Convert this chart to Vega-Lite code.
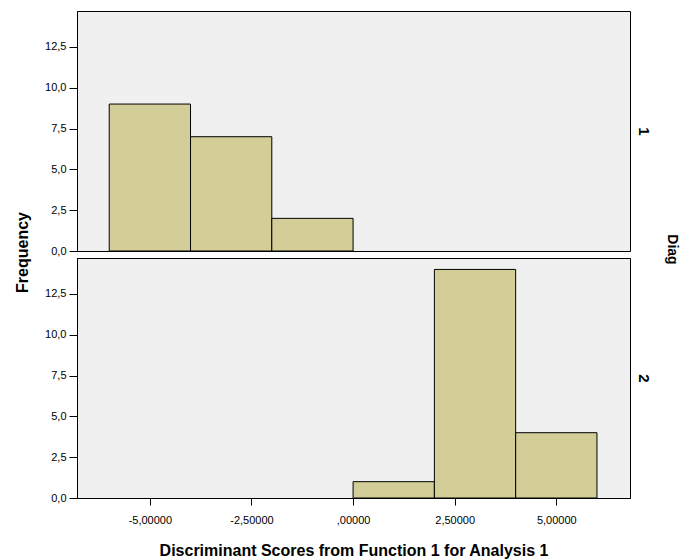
{
  "$schema": "https://vega.github.io/schema/vega-lite/v6.json",
  "padding": {"left": 14, "top": 10, "right": 5, "bottom": 5},
  "bounds": "flush",
  "spacing": 7,
  "data": {"values": [
    {"Diag": 1, "bin_start": -6, "bin_end": -4, "count": 9},
    {"Diag": 1, "bin_start": -4, "bin_end": -2, "count": 7},
    {"Diag": 1, "bin_start": -2, "bin_end": 0, "count": 2},
    {"Diag": 2, "bin_start": 0, "bin_end": 2, "count": 1},
    {"Diag": 2, "bin_start": 2, "bin_end": 4, "count": 14},
    {"Diag": 2, "bin_start": 4, "bin_end": 6, "count": 4}
  ]},
  "vconcat": [
    {
      "width": 553,
      "height": 240,
      "transform": [{"filter": "datum.Diag == 1"}],
      "layer": [
        {
          "mark": {"type": "bar", "fill": "#D3CE97", "stroke": "black", "strokeWidth": 1, "orient": "vertical"},
          "encoding": {
            "x": {"field": "bin_start", "type": "quantitative", "scale": {"domain": [-6.67, 6.69], "nice": false, "zero": false}, "axis": null},
            "x2": {"field": "bin_end"},
            "y": {"field": "count", "type": "quantitative", "scale": {"domain": [0, 14.7], "nice": false},
                  "title": "Frequency",
                  "axis": {"values": [0, 2.5, 5, 7.5, 10, 12.5], "format": ".1f", "titleY": 241, "titlePadding": 14}},
            "y2": {"datum": 0}
          }
        },
        {
          "mark": {"type": "point", "opacity": 0},
          "encoding": {
            "y": {"datum": 0, "type": "quantitative", "scale": {"domain": [0, 1]},
                  "axis": {"orient": "right", "title": "1", "labels": false, "ticks": false, "domain": false, "titleAngle": 90, "titlePadding": 5, "titleFontSize": 15}}
          }
        },
        {
          "mark": {"type": "point", "opacity": 0},
          "encoding": {
            "y": {"datum": 0, "type": "quantitative", "scale": {"domain": [0, 1]},
                  "axis": {"orient": "right", "title": "Diag", "labels": false, "ticks": false, "domain": false, "titleAngle": 90, "titleY": 238, "titlePadding": 34, "titleFontSize": 14}}
          }
        }
      ],
      "resolve": {"scale": {"y": "independent"}, "axis": {"y": "independent"}}
    },
    {
      "width": 553,
      "height": 240,
      "transform": [{"filter": "datum.Diag == 2"}],
      "layer": [
        {
          "mark": {"type": "bar", "fill": "#D3CE97", "stroke": "black", "strokeWidth": 1, "orient": "vertical"},
          "encoding": {
            "x": {"field": "bin_start", "type": "quantitative", "scale": {"domain": [-6.67, 6.69], "nice": false, "zero": false},
                  "title": "Discriminant Scores from Function 1 for Analysis 1",
                  "axis": {"values": [-5, -2.5, 0, 2.5, 5], "format": ".5f", "labelExpr": "datum.value == 0 ? ',00000' : datum.label"}},
            "x2": {"field": "bin_end"},
            "y": {"field": "count", "type": "quantitative", "scale": {"domain": [0, 14.7], "nice": false},
                  "title": null,
                  "axis": {"values": [0, 2.5, 5, 7.5, 10, 12.5], "format": ".1f"}},
            "y2": {"datum": 0}
          }
        },
        {
          "mark": {"type": "point", "opacity": 0},
          "encoding": {
            "y": {"datum": 0, "type": "quantitative", "scale": {"domain": [0, 1]},
                  "axis": {"orient": "right", "title": "2", "labels": false, "ticks": false, "domain": false, "titleAngle": 90, "titlePadding": 5, "titleFontSize": 15}}
          }
        }
      ],
      "resolve": {"scale": {"y": "independent"}, "axis": {"y": "independent"}}
    }
  ],
  "config": {
    "locale": {"number": {"decimal": ",", "thousands": ".", "grouping": [3], "currency": ["", ""], "minus": "-"}},
    "view": {"fill": "#F0F0F0", "stroke": "black", "strokeWidth": 1},
    "axis": {
      "grid": false, "domainColor": "black", "tickColor": "black", "tickSize": 8,
      "labelFont": "Liberation Sans", "labelFontSize": 11, "labelColor": "black",
      "titleFont": "Liberation Sans", "titleFontSize": 16, "titleFontWeight": "bold", "titleColor": "black"
    },
    "axisX": {"labelPadding": 9, "titlePadding": 17, "tickSize": 7},
    "axisY": {"labelPadding": 3}
  }
}
